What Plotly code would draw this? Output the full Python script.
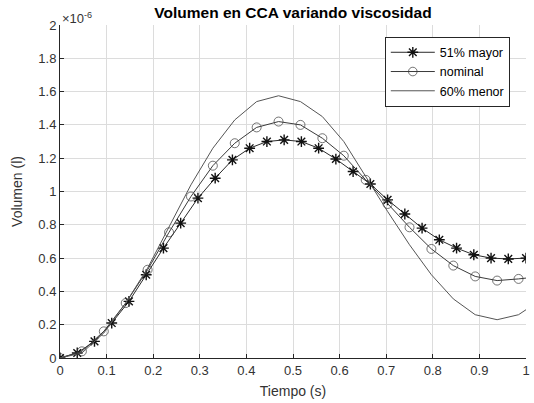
import plotly.graph_objects as go

# --- data (volume in units of 1e-6 l) ---
t_mayor = [0.0, 0.037, 0.074, 0.111, 0.148, 0.185, 0.222, 0.259, 0.296, 0.333,
           0.370, 0.407, 0.444, 0.481, 0.518, 0.555, 0.592, 0.629, 0.666, 0.703,
           0.740, 0.777, 0.814, 0.851, 0.888, 0.925, 0.962, 1.0]
v_mayor = [0.0, 0.03, 0.10, 0.21, 0.34, 0.50, 0.66, 0.81, 0.96, 1.08,
           1.19, 1.26, 1.30, 1.31, 1.30, 1.26, 1.195, 1.12, 1.045, 0.95,
           0.865, 0.78, 0.71, 0.66, 0.62, 0.60, 0.595, 0.60]

t_nom = [0.0, 0.047, 0.094, 0.141, 0.188, 0.234, 0.281, 0.328, 0.375, 0.422,
         0.469, 0.516, 0.563, 0.609, 0.656, 0.703, 0.750, 0.797, 0.844, 0.891,
         0.938, 0.984, 1.0]
v_nom = [0.0, 0.04, 0.16, 0.33, 0.53, 0.755, 0.97, 1.155, 1.29, 1.385,
         1.42, 1.40, 1.32, 1.215, 1.07, 0.925, 0.785, 0.655, 0.555, 0.49,
         0.465, 0.475, 0.48]

t_menor = [0.0, 0.047, 0.094, 0.141, 0.188, 0.234, 0.281, 0.328, 0.375, 0.422,
           0.469, 0.516, 0.563, 0.609, 0.656, 0.703, 0.750, 0.797, 0.844, 0.891,
           0.938, 0.984, 1.0]
v_menor = [0.0, 0.03, 0.15, 0.33, 0.54, 0.79, 1.04, 1.26, 1.43, 1.54,
           1.575, 1.54, 1.45, 1.30, 1.09, 0.88, 0.68, 0.50, 0.355, 0.26,
           0.23, 0.26, 0.29]

names = ["51% mayor", "nominal", "60% menor"]
x_ticks = [0, 0.1, 0.2, 0.3, 0.4, 0.5, 0.6, 0.7, 0.8, 0.9, 1]
y_ticks = [0, 0.2, 0.4, 0.6, 0.8, 1, 1.2, 1.4, 1.6, 1.8, 2]

FONT = "Liberation Sans, Arial, sans-serif"
TXT = "#333333"

fig = go.Figure()
fig.add_trace(go.Scatter(
    x=t_mayor, y=v_mayor, name=names[0], mode="lines+markers",
    line=dict(color="#2a2a2a", width=1),
    marker=dict(symbol="asterisk-open", size=9, color="#111111",
                line=dict(color="#111111", width=1.4)),
))
nom_sizes = [9] * (len(t_nom) - 1) + [0]
fig.add_trace(go.Scatter(
    x=t_nom, y=v_nom, name=names[1], mode="lines+markers",
    line=dict(color="#3a3a3a", width=1),
    marker=dict(symbol="circle-open", size=nom_sizes, color="#3a3a3a",
                line=dict(color="#3a3a3a", width=1)),
))
fig.add_trace(go.Scatter(
    x=t_menor, y=v_menor, name=names[2], mode="lines",
    line=dict(color="#555555", width=1),
))

fig.update_layout(
    width=534, height=403,
    margin=dict(l=60, r=4, t=25, b=45),
    paper_bgcolor="white", plot_bgcolor="white",
    font=dict(family=FONT, size=13, color=TXT),
    title=dict(text="<b>Volumen en CCA variando viscosidad</b>",
               xref="paper", x=0.5, xanchor="center",
               yref="container", y=0.968, yanchor="middle",
               font=dict(family=FONT, size=15.5, color="#000000")),
    showlegend=True,
    legend=dict(x=0.697, y=0.965, xanchor="left", yanchor="top",
                bgcolor="white", bordercolor="#262626", borderwidth=1,
                font=dict(family=FONT, size=12.5, color="#000000"),
                itemwidth=44),
    xaxis=dict(range=[0, 1], tickvals=x_ticks,
               ticktext=[f"{v:g}" for v in x_ticks],
               showgrid=True, gridcolor="#dcdcdc", gridwidth=1,
               zeroline=False, showline=True, linecolor="#262626", linewidth=1,
               ticks="inside", ticklen=4, tickcolor="#262626",
               title=dict(text="Tiempo (s)", standoff=9,
                          font=dict(family=FONT, size=14, color=TXT)),
               tickfont=dict(family=FONT, size=13, color=TXT)),
    yaxis=dict(range=[0, 2], tickvals=y_ticks,
               ticktext=[f"{v:g}" for v in y_ticks],
               showgrid=True, gridcolor="#dcdcdc", gridwidth=1,
               zeroline=False, showline=True, linecolor="#262626", linewidth=1,
               ticks="inside", ticklen=4, tickcolor="#262626",
               title=dict(text="Volumen (l)", standoff=12,
                          font=dict(family=FONT, size=14, color=TXT)),
               tickfont=dict(family=FONT, size=13, color=TXT)),
    annotations=[dict(text="×10<sup>-6</sup>", xref="paper", yref="paper",
                      x=0.0, y=1.0, xanchor="left", yanchor="bottom",
                      showarrow=False, yshift=-3,
                      font=dict(family=FONT, size=13, color=TXT))],
)

fig.write_html("out.html")
